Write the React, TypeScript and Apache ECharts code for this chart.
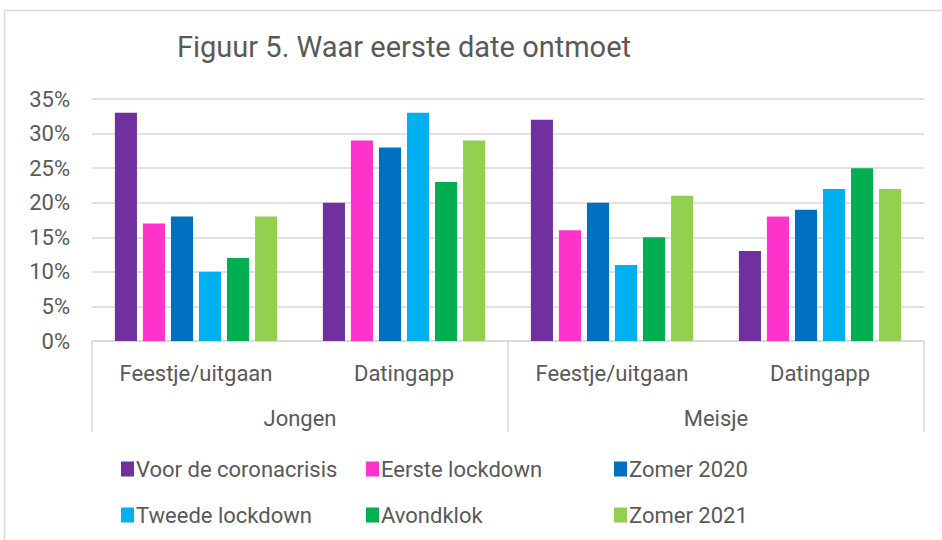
import React, { useEffect, useRef } from "react";
import * as echarts from "echarts";

const subCategories = ["Feestje/uitgaan", "Datingapp", "Feestje/uitgaan", "Datingapp"];
const groups = ["Jongen", "Meisje"];
const seriesNames = [
  "Voor de coronacrisis",
  "Eerste lockdown",
  "Zomer 2020",
  "Tweede lockdown",
  "Avondklok",
  "Zomer 2021",
];
const voorCorona = [33, 20, 32, 13];
const eersteLockdown = [17, 29, 16, 18];
const zomer2020 = [18, 28, 20, 19];
const tweedeLockdown = [10, 33, 11, 22];
const avondklok = [12, 23, 15, 25];
const zomer2021 = [18, 29, 21, 22];
const seriesValues = [voorCorona, eersteLockdown, zomer2020, tweedeLockdown, avondklok, zomer2021];
const colors = ["#7030A0", "#FF33CC", "#0070C0", "#00B0F0", "#00B050", "#92D050"];

const legendPos = [
  { left: 121, top: 458 },
  { left: 366, top: 458 },
  { left: 614, top: 458 },
  { left: 121, top: 504 },
  { left: 366, top: 504 },
  { left: 614, top: 504 },
];

export default function App() {
  const ref = useRef<HTMLDivElement>(null);
  useEffect(() => {
    if (!ref.current) return;
    const chart = echarts.init(ref.current, null, { renderer: "svg" });
    const font = "Roboto";
    const textColor = "#595959";
    const lineColor = "#d9d9d9";
    const fs = 22;
    chart.setOption({
      animation: false,
      backgroundColor: "#fff",
      color: colors,
      title: {
        text: "Figuur 5. Waar eerste date ontmoet",
        left: 172,
        top: 27,
        textStyle: { fontFamily: font, fontSize: 29, fontWeight: "normal", color: textColor },
      },
      graphic: [
        {
          type: "rect",
          shape: { x: 4.5, y: 10.5, width: 1000, height: 600 },
          style: { fill: "none", stroke: lineColor, lineWidth: 1.5 },
          silent: true,
        },
      ],
      legend: seriesNames.map((name, i) => ({
        data: [name],
        left: legendPos[i].left,
        top: legendPos[i].top,
        itemWidth: 13,
        itemHeight: 15,
        itemGap: 5,
        padding: 0,
        icon: "rect",
        selectedMode: false,
        textStyle: { fontFamily: font, fontSize: fs, color: textColor, padding: [0, 0, 0, -3] },
      })),
      grid: { left: 92, right: 18, top: 99, bottom: 199, containLabel: false },
      xAxis: [
        {
          type: "category",
          data: subCategories,
          position: "bottom",
          axisLine: { show: true, lineStyle: { color: lineColor, width: 1.5 } },
          axisTick: { show: false },
          axisLabel: { margin: 21, fontFamily: font, fontSize: fs, color: textColor, interval: 0 },
        },
        {
          type: "category",
          data: groups,
          position: "bottom",
          axisLine: { show: false },
          axisTick: { show: true, length: 91, interval: 0, lineStyle: { color: lineColor, width: 1.5 } },
          axisLabel: { margin: 66, fontFamily: font, fontSize: fs, color: textColor, interval: 0 },
        },
      ],
      yAxis: {
        type: "value",
        min: 0,
        max: 35,
        interval: 5,
        axisLine: { show: false },
        axisTick: { show: false },
        axisLabel: { formatter: "{value}%", margin: 22, fontFamily: font, fontSize: fs, color: textColor },
        splitLine: { lineStyle: { color: lineColor, width: 1.5 } },
      },
      series: seriesNames.map((name, i) => ({
        name,
        type: "bar",
        xAxisIndex: 0,
        data: seriesValues[i],
        barGap: "27%",
        barCategoryGap: "22%",
        itemStyle: { color: colors[i] },
      })),
    });
    return () => chart.dispose();
  }, []);
  return (
    <div
      ref={ref}
      style={{ position: "fixed", left: 0, top: 0, width: 942, height: 540 }}
    />
  );
}
